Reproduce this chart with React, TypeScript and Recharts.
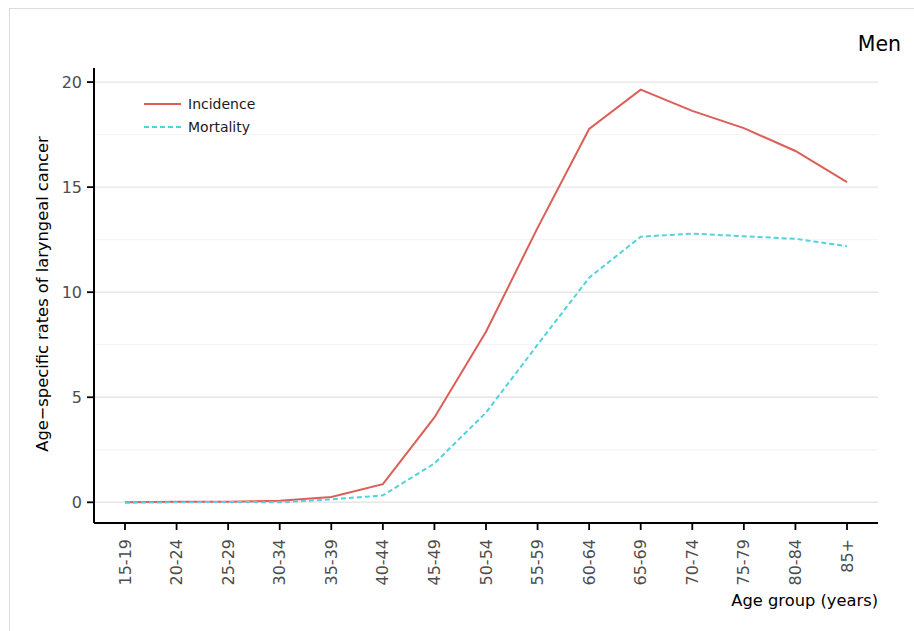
import React from 'react'
import { LineChart, Line, XAxis, YAxis, CartesianGrid, ReferenceLine } from 'recharts'

const AGE_GROUPS = ['15-19', '20-24', '25-29', '30-34', '35-39', '40-44', '45-49', '50-54', '55-59', '60-64', '65-69', '70-74', '75-79', '80-84', '85+']
const INCIDENCE = [0.0, 0.03, 0.03, 0.07, 0.25, 0.86, 4.04, 8.12, 13.06, 17.77, 19.64, 18.63, 17.81, 16.72, 15.24]
const MORTALITY = [-0.02, 0.0, 0.02, 0.0, 0.14, 0.33, 1.85, 4.27, 7.5, 10.69, 12.64, 12.79, 12.66, 12.54, 12.19]
const Y_TICKS = [0, 5, 10, 15, 20]
const MINOR_TICKS = [2.5, 7.5, 12.5, 17.5]
const SERIES = [
  { key: 'incidence', name: 'Incidence', color: '#dc5f57', dash: undefined },
  { key: 'mortality', name: 'Mortality', color: '#52d2dc', dash: '5 3' },
]

const data = AGE_GROUPS.map((age, i) => ({ age, incidence: INCIDENCE[i], mortality: MORTALITY[i] }))

const FONT = '"DejaVu Sans", sans-serif'

const XTick = ({ x, y, payload }: any) => (
  <text x={x} y={y + 7} transform={`rotate(-90, ${x}, ${y + 7})`} textAnchor="end" dominantBaseline="central"
    fontSize={16} fill="#4d4d4d" fontFamily={FONT}>{payload.value}</text>
)

const YTick = ({ x, y, payload }: any) => (
  <text x={x - 3} y={y} textAnchor="end" dominantBaseline="central" fontSize={16} fill="#4d4d4d" fontFamily={FONT}>
    {payload.value}
  </text>
)

export default function App() {
  return (
    <div style={{ position: 'absolute', left: 0, top: 0, width: 914, height: 631, overflow: 'hidden', background: '#fff' }}>
      <div style={{ position: 'absolute', left: 9, top: 8, width: 930, height: 650, border: '1px solid #dcdcdc' }} />
      <div style={{ position: 'absolute', left: 0, top: 0 }}>
        <LineChart width={914} height={631} data={data} margin={{ top: 68, right: 36, bottom: 0, left: 34 }}>
          <CartesianGrid vertical={false} stroke="#e6e6e6" strokeWidth={1.4} horizontalValues={Y_TICKS} />
          {MINOR_TICKS.map((v) => (
            <ReferenceLine key={v} y={v} stroke="#f5f5f5" strokeWidth={1.2} />
          ))}
          <XAxis dataKey="age" padding={{ left: 31, right: 31 }} height={108} interval={0}
            axisLine={{ stroke: '#000', strokeWidth: 2 }} tickLine={{ stroke: '#000', strokeWidth: 1.8 }} tickSize={7}
            tick={<XTick />} />
          <YAxis width={60} domain={[-0.985, 20.67]} ticks={Y_TICKS} allowDataOverflow
            axisLine={{ stroke: '#000', strokeWidth: 2 }} tickLine={{ stroke: '#000', strokeWidth: 1.8 }} tickSize={7}
            tick={<YTick />} />
          {SERIES.map((s) => (
            <Line key={s.key} type="linear" dataKey={s.key} name={s.name} stroke={s.color} strokeWidth={2}
              strokeDasharray={s.dash} dot={false} isAnimationActive={false} />
          ))}
        </LineChart>
      </div>
      <div style={{ position: 'absolute', left: 144, top: 92, fontFamily: FONT, fontSize: 14, color: '#1a1a1a' }}>
        {SERIES.map((s) => (
          <div key={s.key} style={{ display: 'flex', alignItems: 'center', height: 23 }}>
            <svg width={38} height={10} style={{ marginRight: 6 }}>
              <line x1={0} y1={5} x2={37} y2={5} stroke={s.color} strokeWidth={2} strokeDasharray={s.dash} />
            </svg>
            <span>{s.name}</span>
          </div>
        ))}
      </div>
      <div style={{ position: 'absolute', right: 13, top: 32, fontFamily: FONT, fontSize: 20.5, color: '#000' }}>Men</div>
      <div style={{ position: 'absolute', right: 36, top: 591, fontFamily: FONT, fontSize: 16.3, color: '#000' }}>Age group (years)</div>
      <div style={{ position: 'absolute', left: 42, top: 294, width: 0, height: 0 }}>
        <div style={{ position: 'absolute', transform: 'translate(-50%, -50%) rotate(-90deg)', whiteSpace: 'nowrap', fontFamily: FONT, fontSize: 16.3, color: '#000' }}>
          Age−specific rates of laryngeal cancer
        </div>
      </div>
    </div>
  )
}
